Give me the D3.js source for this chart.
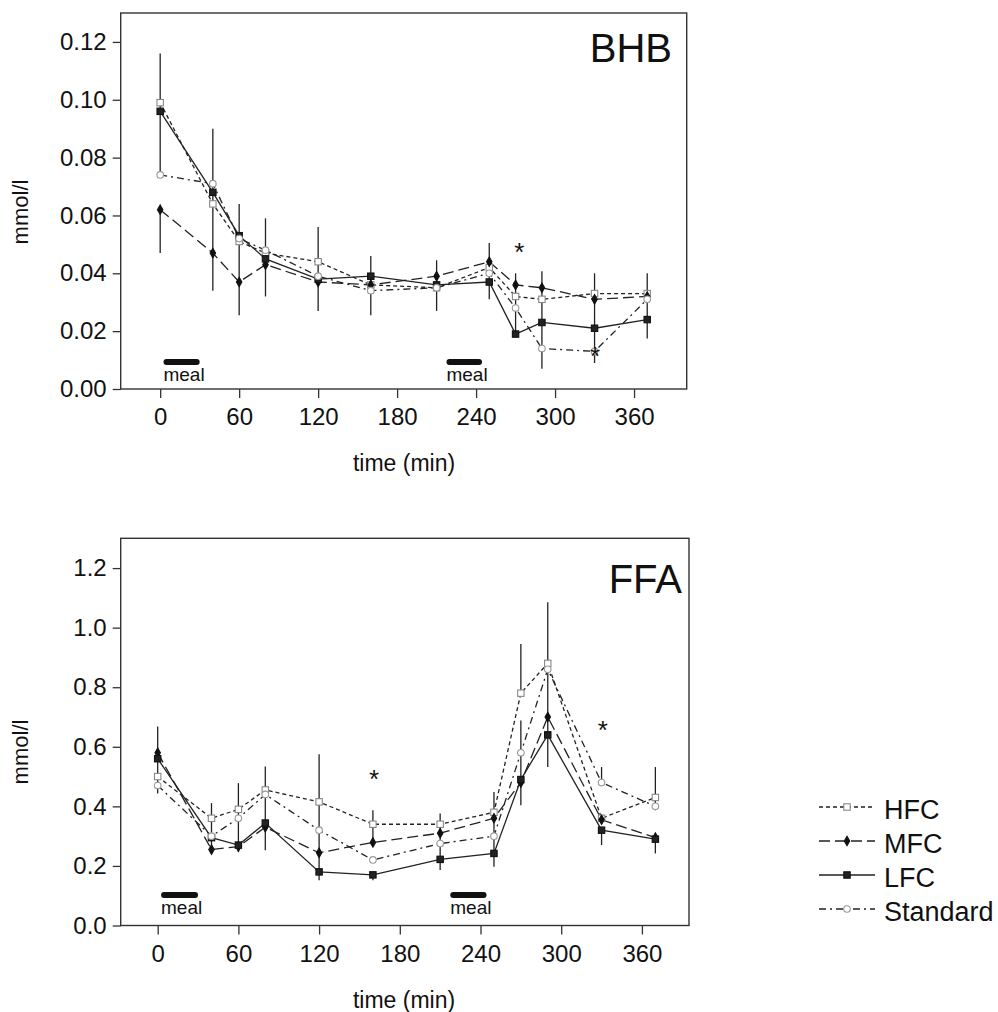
<!DOCTYPE html>
<html>
<head>
    <meta http-equiv="Content-Type" content="text/html;charset=utf8" />
    <title>BHB and FFA</title>
    <script src="https://d3js.org/d3.v7.min.js"></script>
    <style>
        body { margin: 0; background: #fff; }
        svg text { font-family: "Liberation Sans", Arial, sans-serif; fill: #111; }
    </style>
</head>
<body>
<div id="chart"></div>
<script>
    // sampling times (min)
    var times = [0, 40, 60, 80, 120, 160, 210, 250, 270, 290, 330, 370];
    var seriesNames = ["HFC", "MFC", "LFC", "Standard"];
    var timeTicks = [0, 60, 120, 180, 240, 300, 360];
    var meals = [[2.5, 30], [217.5, 244.5]];

    // BHB (mmol/l)
    var bhbHFC = [0.099, 0.064, 0.051, 0.047, 0.044, 0.036, 0.035, 0.042, 0.032, 0.031, 0.033, 0.033];
    var bhbMFC = [0.062, 0.047, 0.037, 0.043, 0.037, 0.036, 0.039, 0.044, 0.036, 0.035, 0.031, 0.032];
    var bhbLFC = [0.096, 0.068, 0.053, 0.045, 0.038, 0.039, 0.036, 0.037, 0.019, 0.023, 0.021, 0.024];
    var bhbStd = [0.074, 0.071, 0.052, 0.048, 0.039, 0.034, 0.035, 0.040, 0.028, 0.014, 0.013, 0.031];
    var bhbTicks = [0, 0.02, 0.04, 0.06, 0.08, 0.10, 0.12];
    // error bars: [time, low, high]
    var bhbErr = [[0, 0.074, 0.116], [0, 0.047, 0.062], [40, 0.034, 0.090], [60, 0.0255, 0.064],
        [80, 0.032, 0.059], [120, 0.027, 0.056], [160, 0.0255, 0.046], [210, 0.027, 0.0445],
        [250, 0.031, 0.0505], [270, 0.0186, 0.040], [290, 0.007, 0.0407], [330, 0.009, 0.040],
        [370, 0.0175, 0.040]];
    var bhbStars = [[272.8, 0.0493], [330.3, 0.0134]];

    // FFA (mmol/l)
    var ffaHFC = [0.50, 0.36, 0.39, 0.455, 0.415, 0.34, 0.34, 0.38, 0.78, 0.88, 0.36, 0.43];
    var ffaMFC = [0.58, 0.255, 0.265, 0.33, 0.244, 0.279, 0.31, 0.36, 0.48, 0.70, 0.355, 0.295];
    var ffaLFC = [0.56, 0.295, 0.27, 0.344, 0.18, 0.17, 0.222, 0.242, 0.49, 0.64, 0.32, 0.29];
    var ffaStd = [0.47, 0.30, 0.36, 0.44, 0.32, 0.22, 0.275, 0.30, 0.58, 0.86, 0.48, 0.40];
    var ffaTicks = [0, 0.2, 0.4, 0.6, 0.8, 1.0, 1.2];
    var ffaErr = [[0, 0.443, 0.668], [40, 0.242, 0.411], [60, 0.247, 0.478], [80, 0.253, 0.534],
        [120, 0.152, 0.575], [160, 0.279, 0.387], [160, 0.152, 0.172], [210, 0.186, 0.376],
        [250, 0.197, 0.448], [270, 0.783, 0.945], [270, 0.404, 0.688], [290, 0.532, 1.085],
        [330, 0.482, 0.532], [330, 0.27, 0.322], [370, 0.387, 0.532], [370, 0.242, 0.29]];
    var ffaStars = [[160.8, 0.512], [331, 0.677]];

    var styles = {
        "HFC":      {dash: "4,3",      marker: "square",  fill: "#fff", stroke: "#888"},
        "MFC":      {dash: "11,5",     marker: "diamond", fill: "#111", stroke: "#111"},
        "LFC":      {dash: null,       marker: "square",  fill: "#222", stroke: "#111"},
        "Standard": {dash: "7,4,2,4",  marker: "circle",  fill: "#fff", stroke: "#999"}
    };

    var svg = d3.select("#chart").append("svg").attr("width", 998).attr("height", 1012);

    function marker(g, name, x, y) {
        var s = styles[name];
        var m;
        if (s.marker == "circle") {
            m = g.append("circle").attr("cx", x).attr("cy", y).attr("r", 3.3);
        } else if (s.marker == "diamond") {
            m = g.append("path").attr("d", d3.symbol().type(d3.symbolDiamond).size(26)())
                .attr("transform", "translate(" + x + "," + y + ")");
        } else {
            m = g.append("rect").attr("x", x - 3.2).attr("y", y - 3.2).attr("width", 6.4).attr("height", 6.4);
        }
        m.attr("fill", s.fill).attr("stroke", s.stroke).attr("stroke-width", 1.1);
    }

    function panel(cfg) {
        var x = d3.scaleLinear().domain(cfg.xDomain).range([120.7, cfg.right]);
        var y = d3.scaleLinear().domain(cfg.yDomain).range([cfg.bottom, cfg.top]);
        var g = svg.append("g");

        // frame
        g.append("rect").attr("x", 120.7).attr("y", cfg.top)
            .attr("width", cfg.right - 120.7).attr("height", cfg.bottom - cfg.top)
            .attr("fill", "none").attr("stroke", "#333").attr("stroke-width", 1.4);

        var xa = g.append("g").attr("transform", "translate(0," + cfg.bottom + ")")
            .call(d3.axisBottom(x).tickValues(timeTicks).tickSize(9).tickPadding(10));
        var ya = g.append("g").attr("transform", "translate(120.7,0)")
            .call(d3.axisLeft(y).tickValues(cfg.yTicks).tickFormat(d3.format(cfg.fmt)).tickSize(8).tickPadding(6));
        [xa, ya].forEach(function(a) {
            a.select(".domain").remove();
            a.selectAll("line").attr("stroke", "#333").attr("stroke-width", 1.3);
            a.selectAll("text").attr("font-size", 24).attr("fill", "#111");
        });

        // axis titles
        g.append("text").attr("x", 404).attr("y", cfg.bottom + 82).attr("text-anchor", "middle")
            .attr("font-size", 23).text("time (min)");
        g.append("text").attr("transform", "translate(28," + cfg.yLabel + ") rotate(-90)")
            .attr("text-anchor", "middle").attr("font-size", 22).text("mmol/l");

        // panel title
        g.append("text").attr("x", cfg.titleX).attr("y", cfg.titleY).attr("text-anchor", "end")
            .attr("font-size", 40).text(cfg.title);

        // meal bars
        meals.forEach(function(m) {
            g.append("rect").attr("x", x(m[0])).attr("y", cfg.bottom - cfg.mealOff - 3)
                .attr("width", x(m[1]) - x(m[0])).attr("height", 6).attr("rx", 3)
                .attr("fill", "#111");
            g.append("text").attr("x", x(m[0])).attr("y", cfg.bottom - cfg.mealOff + 19)
                .attr("font-size", 19).text("meal");
        });

        // lines
        var line = d3.line().x(function(d) { return x(d[0]); }).y(function(d) { return y(d[1]); });
        seriesNames.forEach(function(name, i) {
            var pts = times.map(function(t, j) { return [t, cfg.values[i][j]]; });
            g.append("path").attr("d", line(pts)).attr("fill", "none")
                .attr("stroke", "#222").attr("stroke-width", 1.3)
                .attr("stroke-dasharray", styles[name].dash);
        });

        // error bars
        g.selectAll(".err").data(cfg.err).enter().append("line")
            .attr("x1", function(d) { return x(d[0]); }).attr("x2", function(d) { return x(d[0]); })
            .attr("y1", function(d) { return y(d[1]); }).attr("y2", function(d) { return y(d[2]); })
            .attr("stroke", "#222").attr("stroke-width", 1.3);

        // markers
        seriesNames.forEach(function(name, i) {
            times.forEach(function(t, j) { marker(g, name, x(t), y(cfg.values[i][j])); });
        });

        // significance stars
        cfg.stars.forEach(function(s) {
            g.append("text").attr("x", x(s[0])).attr("y", y(s[1])).attr("dy", "0.575em")
                .attr("text-anchor", "middle").attr("font-size", 26).text("*");
        });
    }

    panel({
        title: "BHB", titleX: 672, titleY: 62,
        xDomain: [-30, 400], right: 686.7, top: 13, bottom: 389,
        yDomain: [0, 0.13], yTicks: bhbTicks, fmt: ".2f", yLabel: 212,
        values: [bhbHFC, bhbMFC, bhbLFC, bhbStd], err: bhbErr, stars: bhbStars, mealOff: 27
    });
    panel({
        title: "FFA", titleX: 682, titleY: 593,
        xDomain: [-27.5, 395], right: 689, top: 538.3, bottom: 925.5,
        yDomain: [0, 1.3], yTicks: ffaTicks, fmt: ".1f", yLabel: 752,
        values: [ffaHFC, ffaMFC, ffaLFC, ffaStd], err: ffaErr, stars: ffaStars, mealOff: 30.5
    });

    // legend
    var lg = svg.append("g");
    seriesNames.forEach(function(name, i) {
        var ly = 807 + i * 34;
        lg.append("line").attr("x1", 819).attr("x2", 875).attr("y1", ly).attr("y2", ly)
            .attr("stroke", "#222").attr("stroke-width", 1.3).attr("stroke-dasharray", styles[name].dash);
        marker(lg, name, 847, ly);
        lg.append("text").attr("x", 884).attr("y", ly + 12).attr("font-size", 27).text(name);
    });
</script>
</body>
</html>
